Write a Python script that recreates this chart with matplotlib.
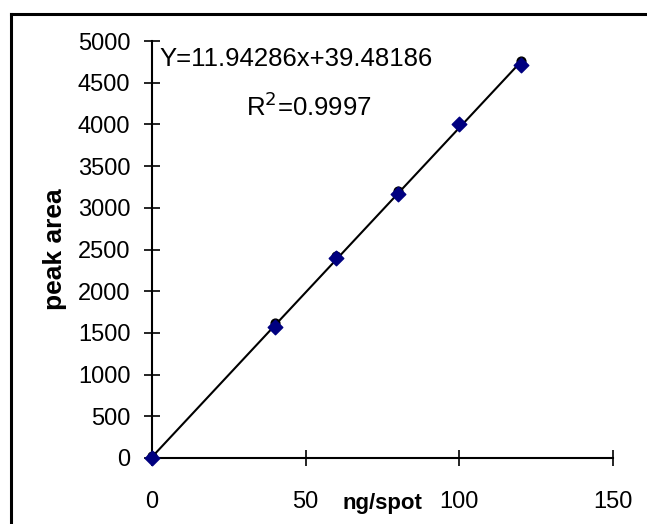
import matplotlib
matplotlib.use("Agg")
import matplotlib.pyplot as plt
from matplotlib.lines import Line2D

# calibration data
amount = [0, 40, 60, 80, 100, 120]
area_circle = [20, 1620, 2420, 3200, 4010, 4760]
area_diamond = [0, 1570, 2400, 3160, 4000, 4710]
# coefficients as printed on the chart (the drawn line uses them swapped)
coef_a = 11.94286
coef_b = 39.48186
r2 = 0.9997
xticks = [0, 50, 100, 150]
yticks = list(range(0, 5001, 500))

plt.rcParams['font.family'] = ['Liberation Sans', 'DejaVu Sans']

fig = plt.figure(figsize=(6.47, 5.24), dpi=100)
ax = fig.add_axes([152/647, 66/524, 461/647, 417/524])

fit_x = [0, 120]
fit_y = [coef_b * v + coef_a for v in fit_x]
ax.plot(fit_x, fit_y, color='black', linewidth=1.5, zorder=2)
ax.scatter(amount, area_circle, c='black', s=40, marker='o', zorder=3, clip_on=False)
ax.scatter(amount, area_diamond, c='#000080', s=55, marker='D', zorder=4, clip_on=False)

ax.set_xlim(0, 150)
ax.set_ylim(0, 5000)
ax.set_xticks(xticks)
ax.set_yticks(yticks)
ax.spines['top'].set_visible(False)
ax.spines['right'].set_visible(False)
ax.spines['left'].set_linewidth(1.5)
ax.spines['bottom'].set_linewidth(1.5)
ax.tick_params(axis='both', direction='inout', length=11, width=1.2, labelsize=17)
ax.tick_params(axis='y', pad=10)
ax.tick_params(axis='x', pad=18)

ax.text(296/647 - 152/647, 0.5, '', transform=ax.transAxes)
fig.text(296/647, 1 - 59/524, 'Y=%.5fx+%.5f' % (coef_a, coef_b),
         ha='center', va='center', fontsize=18.5)
fig.text(309/647, 1 - 107/524, 'R$^2$=%.4f' % r2,
         ha='center', va='center', fontsize=18.5)

fig.text(382/647, 1 - 503/524, 'ng/spot', ha='center', va='center',
         fontsize=16, fontweight='bold')
fig.text(55/647, 1 - 249/524, 'peak area', ha='center', va='center',
         rotation=90, fontsize=19, fontweight='bold')

# outer frame
fig.add_artist(Line2D([10.5/647, 10.5/647], [0, 1 - 14/524], color='black', linewidth=2.2))
fig.add_artist(Line2D([10.5/647, 1], [1 - 14/524, 1 - 14/524], color='black', linewidth=2.2))

fig.savefig('out.png', dpi=100)
